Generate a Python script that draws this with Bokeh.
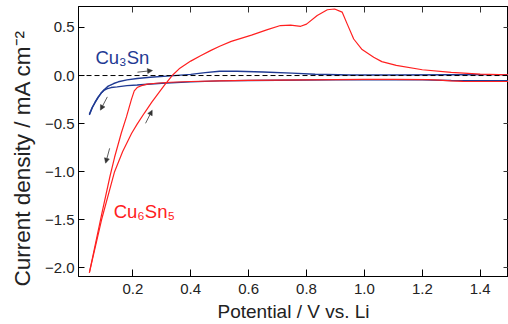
from bokeh.plotting import figure
from bokeh.models import (Range1d, FixedTicker, LinearAxis, Span, Arrow,
                          NormalHead, Label, Title)
from bokeh.embed import file_html
from bokeh.resources import INLINE

# ---------------- data ----------------
# Cu6Sn5, cathodic sweep (1.5 V -> 0.05 V)
red_cat_x = [1.50, 1.40, 1.34, 1.30, 1.26, 1.22, 1.10, 1.00, 0.80, 0.60, 0.50,
             0.40, 0.33, 0.28, 0.25, 0.23, 0.215, 0.205, 0.195, 0.178, 0.16,
             0.137, 0.121, 0.092, 0.05]
red_cat_y = [-0.062, -0.062, -0.06, -0.055, -0.047, -0.043, -0.04, -0.04,
             -0.045, -0.05, -0.055, -0.062, -0.07, -0.08, -0.09, -0.105, -0.125,
             -0.16, -0.25, -0.43, -0.60, -0.85, -1.05, -1.45, -2.05]
# Cu6Sn5, anodic sweep (0.05 V -> 1.5 V)
red_an_x = [0.05, 0.092, 0.137, 0.165, 0.196, 0.215, 0.24, 0.265, 0.29, 0.31,
            0.336, 0.36, 0.40, 0.434, 0.47, 0.50, 0.54, 0.61, 0.665, 0.71, 0.745,
            0.78, 0.80, 0.837, 0.872, 0.897, 0.923, 0.94, 0.963, 0.992, 1.032,
            1.06, 1.11, 1.20, 1.30, 1.40, 1.50]
red_an_y = [-2.05, -1.50, -1.00, -0.79, -0.60, -0.505, -0.39, -0.28, -0.178,
            -0.097, 0.0, 0.07, 0.15, 0.205, 0.262, 0.305, 0.355, 0.42, 0.477,
            0.52, 0.525, 0.512, 0.535, 0.624, 0.684, 0.692, 0.66, 0.54, 0.38,
            0.27, 0.19, 0.145, 0.105, 0.06, 0.032, 0.015, 0.006]
# Cu3Sn, cathodic sweep
blue_cat_x = [1.50, 1.30, 1.20, 1.00, 0.80, 0.60, 0.50, 0.40, 0.30, 0.215, 0.18,
              0.146, 0.125, 0.11, 0.10, 0.09, 0.08, 0.07, 0.06, 0.05]
blue_cat_y = [-0.055, -0.052, -0.045, -0.042, -0.046, -0.051, -0.056, -0.066,
              -0.08, -0.098, -0.105, -0.118, -0.125, -0.138, -0.155, -0.185,
              -0.225, -0.275, -0.33, -0.40]
# Cu3Sn, anodic sweep
blue_an_x = [0.05, 0.06, 0.07, 0.08, 0.09, 0.10, 0.115, 0.134, 0.15, 0.18, 0.215,
             0.26, 0.33, 0.40, 0.45, 0.50, 0.56, 0.65, 0.75, 0.83, 0.95, 1.10,
             1.30, 1.50]
blue_an_y = [-0.41, -0.335, -0.28, -0.23, -0.185, -0.15, -0.11, -0.083, -0.065,
             -0.045, -0.031, -0.018, -0.004, 0.012, 0.03, 0.045, 0.045, 0.037,
             0.025, 0.013, 0.006, 0.005, 0.008, 0.01]

# sweep-direction arrows (start -> end, data coordinates)
arrow_x0 = [0.216, 0.112, 0.120, 0.244]
arrow_y0 = [0.035, -0.222, -0.757, -0.497]
arrow_x1 = [0.268, 0.088, 0.106, 0.267]
arrow_y1 = [0.052, -0.36, -0.912, -0.36]

# series labels
label_text = ["Cu\u2083Sn", "Cu\u2086Sn\u2085"]
label_x = [0.071, 0.134]
label_y = [0.19, -1.414]

x_ticks = [0.2, 0.4, 0.6, 0.8, 1.0, 1.2, 1.4]
x_tick_labels = ["0.2", "0.4", "0.6", "0.8", "1.0", "1.2", "1.4"]
y_ticks = [-2.0, -1.5, -1.0, -0.5, 0.0, 0.5]
y_tick_labels = ["\u22122.0", "\u22121.5", "\u22121.0", "\u22120.5", "0.0", "0.5"]

x_label = "Potential / V vs. Li"
y_label = "Current density / mA cm\u207b\u00b2"

# ---------------- styling ----------------
FONT = "Liberation Sans"
RED = "#ff2020"
BLUE = "#1f3a93"
TXT = "#222222"

p = figure(width=508, height=324, output_backend="svg", toolbar_location=None,
           x_range=Range1d(0.0124, 1.4977), y_range=Range1d(-2.090, 0.718),
           min_border_left=78, min_border_right=0, min_border_top=6,
           min_border_bottom=47, background_fill_color="white",
           border_fill_color="white", outline_line_color="black",
           outline_line_width=1)
p.grid.visible = False

p.add_layout(Span(location=0, dimension="width", line_color="black",
                  line_width=1, line_dash="5 3"))

p.line(blue_cat_x, blue_cat_y, line_color=BLUE, line_width=1.4)
p.line(blue_an_x, blue_an_y, line_color=BLUE, line_width=1.4)
p.line(red_cat_x, red_cat_y, line_color=RED, line_width=1.2)
p.line(red_an_x, red_an_y, line_color=RED, line_width=1.2)

for x0, y0, x1, y1 in zip(arrow_x0, arrow_y0, arrow_x1, arrow_y1):
    p.add_layout(Arrow(x_start=x0, y_start=y0, x_end=x1, y_end=y1,
                       line_color="#333333", line_width=0.8,
                       end=NormalHead(size=5, fill_color="#333333",
                                      line_color="#333333", line_width=0.5)))

for t, lx, ly, c in zip(label_text, label_x, label_y, [BLUE, RED]):
    p.add_layout(Label(x=lx, y=ly, text=t, text_color=c, text_font=FONT,
                       text_font_size="18.5px", text_baseline="alphabetic",
                       text_align="left"))

# bottom axis
xax = p.xaxis[0]
xax.ticker = FixedTicker(ticks=x_ticks)
xax.major_label_overrides = dict(zip(x_ticks, x_tick_labels))
xax.major_tick_in = 7
xax.major_tick_out = 0
xax.minor_tick_in = 0
xax.minor_tick_out = 0
xax.major_label_standoff = 7
xax.major_label_text_font = FONT
xax.major_label_text_font_size = "15px"
xax.major_label_text_color = TXT
xax.axis_line_color = "black"
xax.major_tick_line_color = "black"
xax.axis_label = x_label
xax.axis_label_text_font = FONT
xax.axis_label_text_font_size = "19px"
xax.axis_label_text_font_style = "normal"
xax.axis_label_text_color = TXT
xax.axis_label_standoff = 4

# left axis
yax = p.yaxis[0]
yax.ticker = FixedTicker(ticks=y_ticks)
yax.major_label_overrides = dict(zip(y_ticks, y_tick_labels))
yax.major_tick_in = 6
yax.major_tick_out = 0
yax.minor_tick_in = 0
yax.minor_tick_out = 0
yax.major_label_standoff = 4
yax.major_label_text_font = FONT
yax.major_label_text_font_size = "15px"
yax.major_label_text_color = TXT
yax.axis_line_color = "black"
yax.major_tick_line_color = "black"

# top and right axes: ticks only
top = LinearAxis(ticker=FixedTicker(ticks=x_ticks),
                 major_label_overrides={t: "" for t in x_ticks},
                 major_label_text_font_size="0px", major_label_standoff=0,
                 major_tick_in=6, major_tick_out=0, minor_tick_in=0,
                 minor_tick_out=0, axis_line_color="black",
                 major_tick_line_color="#333333")
p.add_layout(top, "above")
right = LinearAxis(ticker=FixedTicker(ticks=y_ticks),
                   major_label_overrides={t: "" for t in y_ticks},
                   major_label_text_font_size="0px", major_label_standoff=0,
                   major_tick_in=5, major_tick_out=0, minor_tick_in=0,
                   minor_tick_out=0, axis_line_color=None,
                   major_tick_line_color="#333333")
p.add_layout(right, "right")

# y label as a left title so it can be shifted along the axis
p.add_layout(Title(text=y_label, align="left", offset=-10, text_font=FONT,
                   text_font_size="22.5px", text_font_style="normal",
                   text_color=TXT, standoff=14, vertical_align="bottom"), "left")

open("out.html", "w").write(file_html(p, INLINE))
